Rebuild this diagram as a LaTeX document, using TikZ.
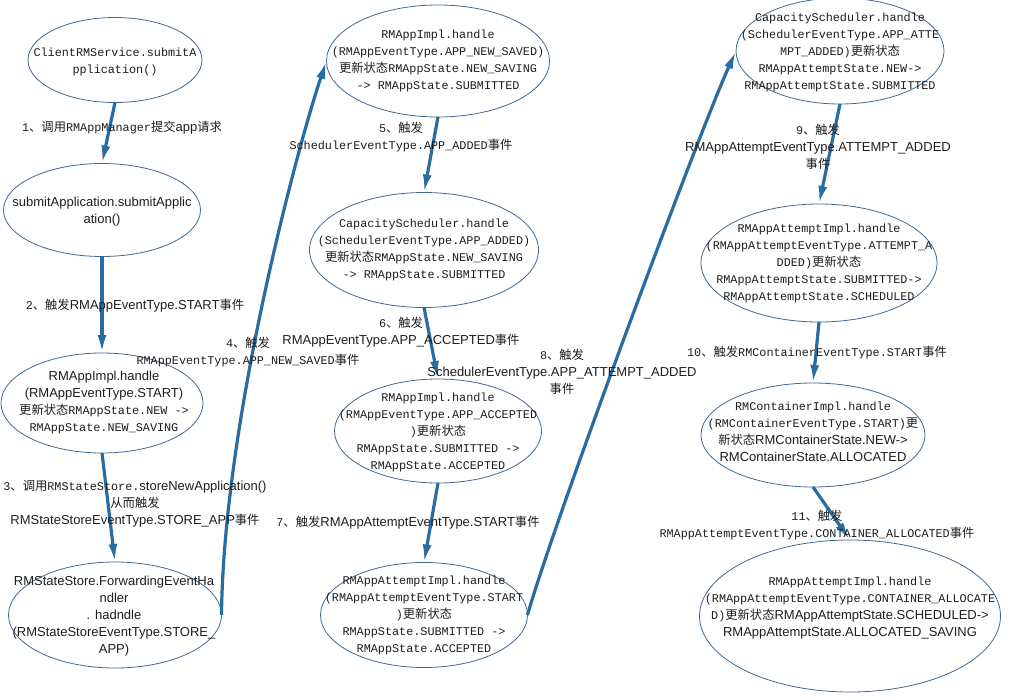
\documentclass[tikz,border=0pt]{standalone}
\usepackage{fontspec}
\usetikzlibrary{shapes.geometric,arrows.meta}
\newfontfamily\monof{Liberation Mono}
\newfontfamily\arialf{Liberation Sans}
\newfontfamily\cjkf{Noto Sans CJK SC}
\newcommand\Mo[1]{{\monof\fontsize{11.8}{17}\selectfont #1}}
\newcommand\Ar[1]{{\arialf\fontsize{13}{17}\selectfont #1}}
\newcommand\Ck[1]{{\cjkf\fontsize{12.3}{17}\selectfont #1}}
\definecolor{ellc}{RGB}{65,105,150}
\definecolor{arrc}{RGB}{40,108,162}
\definecolor{textc}{RGB}{30,30,30}
\tikzset{
  ell/.style={shape=ellipse, draw=ellc, line width=0.8pt, inner sep=0pt, outer sep=0pt},
  txt/.style={align=center, inner sep=0pt, text=textc, font=\fontsize{12}{17}\selectfont},
  arr/.style={draw=arrc, line width=3.2pt, -{Latex[length=18pt,width=9pt]}}
}
\begin{document}
\begin{tikzpicture}[x=1pt,y=-1pt]
\fill[white] (0,0) rectangle (1022,699);
\useasboundingbox (0,0) rectangle (1022,699);

% ellipses
\node[ell, minimum width=174pt, minimum height=85pt] (e1) at (115,60) {};
\node[ell, minimum width=197pt, minimum height=93pt] (e2) at (102,210) {};
\node[ell, minimum width=202pt, minimum height=100pt] (e3) at (102,403) {};
\node[ell, minimum width=213pt, minimum height=106pt] (e4) at (115,615) {};
\node[ell, minimum width=223pt, minimum height=112pt] (e5) at (438,61) {};
\node[ell, minimum width=229pt, minimum height=115pt] (e6) at (424,250) {};
\node[ell, minimum width=207pt, minimum height=104pt] (e7) at (438,431) {};
\node[ell, minimum width=207pt, minimum height=105pt] (e8) at (424,615) {};
\node[ell, minimum width=208pt, minimum height=106pt] (e9) at (840,51) {};
\node[ell, minimum width=236pt, minimum height=118pt] (e10) at (819,263) {};
\node[ell, minimum width=224pt, minimum height=104pt] (e11) at (813,435) {};
\node[ell, minimum width=301pt, minimum height=152pt] (e12) at (850,616) {};

% ellipse texts
\node[txt] (t1) at (115,62) {\Mo{ClientRMService.submitA}\\\Mo{pplication()}};
\node[txt] (t2) at (102,212) {\Ar{submitApplication.submitApplic}\\\Ar{ation()}};
\node[txt] (t3) at (104,403) {\Ar{RMAppImpl.handle}\\\Ar{(RMAppEventType.START)}\\\Ck{更新状态}\Mo{RMAppState.NEW ->}\\\Mo{RMAppState.NEW\_SAVING}};
\node[txt] (t4) at (114,616) {\Ar{RMStateStore.ForwardingEventHa}\\\Ar{ndler}\\\Ar{. hadndle}\\\Ar{(RMStateStoreEventType.STORE\_}\\\Ar{APP)}};
\node[txt] (t5) at (438,61) {\Mo{RMAppImpl.handle}\\\Mo{(RMAppEventType.APP\_NEW\_SAVED)}\\\Ck{更新状态}\Mo{RMAppState.NEW\_SAVING}\\\Mo{-> RMAppState.SUBMITTED}};
\node[txt] (t6) at (424,250) {\Mo{CapacityScheduler.handle}\\\Mo{(SchedulerEventType.APP\_ADDED)}\\\Ck{更新状态}\Mo{RMAppState.NEW\_SAVING}\\\Mo{-> RMAppState.SUBMITTED}};
\node[txt] (t7) at (438,432) {\Mo{RMAppImpl.handle}\\\Mo{(RMAppEventType.APP\_ACCEPTED}\\\Mo{)}\Ck{更新状态}\\\Mo{RMAppState.SUBMITTED ->}\\\Mo{RMAppState.ACCEPTED}};
\node[txt] (t8) at (424,615) {\Mo{RMAppAttemptImpl.handle}\\\Mo{(RMAppAttemptEventType.START}\\\Mo{)}\Ck{更新状态}\\\Mo{RMAppState.SUBMITTED ->}\\\Mo{RMAppState.ACCEPTED}};
\node[txt] (t9) at (840,52) {\Mo{CapacityScheduler.handle}\\\Mo{(SchedulerEventType.APP\_ATTE}\\\Mo{MPT\_ADDED)}\Ck{更新状态}\\\Mo{RMAppAttemptState.NEW->}\\\Mo{RMAppAttemptState.SUBMITTED}};
\node[txt] (t10) at (819,263) {\Mo{RMAppAttemptImpl.handle}\\\Mo{(RMAppAttemptEventType.ATTEMPT\_A}\\\Mo{DDED)}\Ck{更新状态}\\\Mo{RMAppAttemptState.SUBMITTED->}\\\Mo{RMAppAttemptState.SCHEDULED}};
\node[txt] (t11) at (813,432) {\Mo{RMContainerImpl.handle}\\\Mo{(RMContainerEventType.START)}\Ck{更}\\\Ck{新状态}\Ar{RMContainerState.NEW->}\\\Ar{RMContainerState.ALLOCATED}};
\node[txt] (t12) at (850,608) {\Mo{RMAppAttemptImpl.handle}\\\Mo{(RMAppAttemptEventType.CONTAINER\_ALLOCATE}\\\Mo{D)}\Ck{更新状态}\Ar{RMAppAttemptState.SCHEDULED->}\\\Ar{RMAppAttemptState.ALLOCATED\_SAVING}};

% connectors
\draw[arr] (e1.south) -- (e2.north);
\draw[arr] (e2.south) -- (e3.north);
\draw[arr] (e3.south) -- (e4.north);
\draw[arr] (e4.east) .. controls +(2,-195) and +(-27,79) .. (e5.west);
\draw[arr] (e5.south) -- (e6.north);
\draw[arr] (e6.south) -- (e7.north);
\draw[arr] (e7.south) -- (e8.north);
\draw[arr] (e8.east) .. controls +(27,-95) and +(-36,79) .. (e9.west);
\draw[arr] (e9.south) -- (e10.north);
\draw[arr] (e10.south) -- (e11.north);
\draw[arr] (e11.south) -- (e12.north);

% labels
\node[txt] (l1) at (122,128) {\Mo{1}\Ck{、调用}\Mo{RMAppManager}\Ck{提交}\Ar{app}\Ck{请求}};
\node[txt] (l2) at (135,306) {\Mo{2}\Ck{、触发}\Ar{RMAppEventType.START}\Ck{事件}};
\node[txt] (l3) at (135,504) {\Mo{3}\Ck{、调用}\Mo{RMStateStore.}\Ar{storeNewApplication()}\\\Ck{从而触发}\\\Ar{RMStateStoreEventType.STORE\_APP}\Ck{事件}};
\node[txt] (l4) at (248,352) {\Mo{4}\Ck{、触发}\\\Mo{RMAppEventType.APP\_NEW\_SAVED}\Ck{事件}};
\node[txt] (l5) at (401,137) {\Mo{5}\Ck{、触发}\\\Mo{SchedulerEventType.APP\_ADDED}\Ck{事件}};
\node[txt] (l6) at (401,332) {\Mo{6}\Ck{、触发}\\\Ar{RMAppEventType.APP\_ACCEPTED}\Ck{事件}};
\node[txt] (l7) at (408,523) {\Mo{7}\Ck{、触发}\Ar{RMAppAttemptEventType.START}\Ck{事件}};
\node[txt] (l8) at (562,372) {\Mo{8}\Ck{、触发}\\\Ar{SchedulerEventType.APP\_ATTEMPT\_ADDED}\\\Ck{事件}};
\node[txt] (l9) at (818,147) {\Mo{9}\Ck{、触发}\\\Ar{RMAppAttemptEventType.ATTEMPT\_ADDED}\\\Ck{事件}};
\node[txt] (l10) at (817,353) {\Mo{10}\Ck{、触发}\Mo{RMContainerEventType.START}\Ck{事件}};
\node[txt] (l11) at (817,525) {\Mo{11}\Ck{、触发}\\\Mo{RMAppAttemptEventType.CONTAINER\_ALLOCATED}\Ck{事件}};
\end{tikzpicture}
\end{document}
